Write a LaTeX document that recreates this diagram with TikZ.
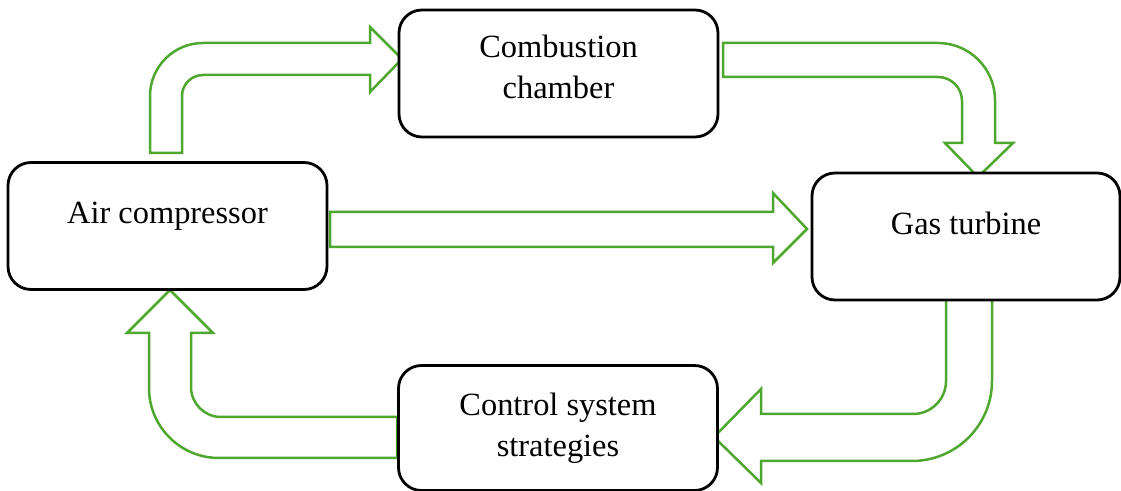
\documentclass[tikz,border=0pt]{standalone}
\usepackage{fontspec}
\setmainfont{Liberation Serif}
\definecolor{flowgreen}{RGB}{78,167,46}
\tikzset{
  stage/.style={draw, fill=white, line width=1.4pt, rounded corners=11.5pt,
    minimum width=159.5pt, minimum height=63.5pt, inner sep=0pt,
    align=center, font=\fontsize{16.2}{20.5}\selectfont},
  oneline/.style={text height=11pt, text depth=13pt},
  flow/.style={draw=flowgreen, line width=1.25pt, line join=miter}
}

\begin{document}
\begin{tikzpicture}[x=0.5pt, y=-0.5pt]
\useasboundingbox (0,0) rectangle (1121,491);
% Block arrows between the stages
% compressor up and over to the combustion chamber
\draw [flow] (150,153) [rounded corners=26.5pt] -- (150,43) [sharp corners] -- (370,43)
  -- (370,27) -- (402,59) -- (370,92) -- (370,75) [rounded corners=10.5pt] -- (182,75)
  [sharp corners] -- (182,153) -- cycle;
% combustion chamber over and down to the turbine
\draw [flow] (723,43) [rounded corners=28.5pt] -- (995,43) [sharp corners] -- (995,143)
  -- (1013,143) -- (978,177) -- (945,143) -- (962,143) [rounded corners=12pt] -- (962,77)
  [sharp corners] -- (723,77) -- cycle;
% straight one from compressor to turbine
\draw [flow] (330,212) -- (773,212) -- (773,193) -- (807,229) -- (773,263)
  -- (773,247) -- (330,247) -- cycle;
% turbine down and back to the control strategies
\draw [flow] (946,298) [rounded corners=16.5pt] -- (946,414) [sharp corners] -- (761,414)
  -- (761,389) -- (714,437) -- (761,483) -- (761,461) [rounded corners=40pt] -- (992,461)
  [sharp corners] -- (992,298) -- cycle;
% control strategies back up to the compressor
\draw [flow] (397,417) [rounded corners=15pt] -- (191,417) [sharp corners] -- (191,333)
  -- (213,333) -- (170,290) -- (127,333) -- (149,333) [rounded corners=35pt] -- (149,458)
  [sharp corners] -- (397,458) -- cycle;
% The four stages
\node [stage, oneline] (comp) at (167.5,226) {Air compressor};
\node [stage, text depth=7pt] (comb) at (558.5,73.5) {Combustion\\chamber};
\node [stage, oneline, minimum width=154pt] (turb) at (966,236.5) {Gas turbine};
\node [stage, minimum height=62.5pt] (ctrl) at (558,428) {Control system\\strategies};
\end{tikzpicture}
\end{document}
